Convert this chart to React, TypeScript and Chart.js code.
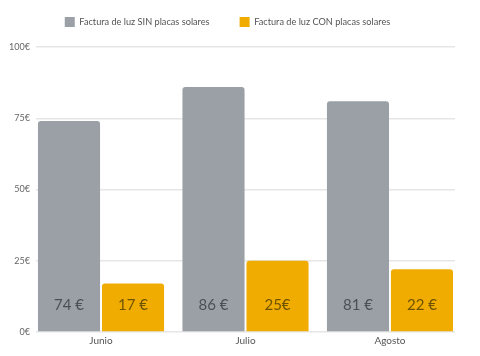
import React, { useEffect, useRef } from "react";
import { Chart, registerables } from "chart.js";

Chart.register(...registerables);

const months = ["Junio", "Julio", "Agosto"];
const sinValues = [74, 86, 81];
const conValues = [17, 25, 22];
const sinLabels = ["74 €", "86 €", "81 €"];
const conLabels = ["17 €", "25€", "22 €"];
const seriesNames = ["Factura de luz SIN placas solares", "Factura de luz CON placas solares"];
const yTicks = [0, 25, 50, 75, 100];

const FONT = "Lato, 'Open Sans', sans-serif";

const barLabelPlugin = {
  id: "barLabels",
  afterDatasetsDraw(chart: any) {
    const ctx = chart.ctx;
    const base = chart.scales.y.getPixelForValue(0);
    const sets = [
      { labels: sinLabels, color: "#4b5057" },
      { labels: conLabels, color: "#6e5300" },
    ];
    ctx.save();
    ctx.font = `15px ${FONT}`;
    ctx.textAlign = "center";
    ctx.textBaseline = "middle";
    sets.forEach((s, di) => {
      const meta = chart.getDatasetMeta(di);
      meta.data.forEach((el: any, i: number) => {
        ctx.fillStyle = s.color;
        ctx.fillText(s.labels[i], el.x, base - 27);
      });
    });
    ctx.restore();
  },
};

const legendMargin = {
  id: "legendMargin",
  beforeInit(chart: any) {
    const legend = chart.legend;
    const fit = legend.fit;
    legend.fit = function () {
      fit.bind(legend)();
      this.height += 10;
    };
  },
};

export default function App() {
  const ref = useRef<HTMLCanvasElement>(null);
  useEffect(() => {
    document.body.style.margin = "0";
    const chart = new Chart(ref.current!, {
      type: "bar",
      data: {
        datasets: [
          {
            label: seriesNames[0],
            data: sinValues.map((v, i) => ({ x: i, y: v })),
            backgroundColor: "#9aa0a6",
            borderRadius: 3,
            categoryPercentage: 0.886,
            barPercentage: 0.97,
          },
          {
            label: seriesNames[1],
            data: conValues.map((v, i) => ({ x: i, y: v })),
            backgroundColor: "#f0ac00",
            borderRadius: 3,
            categoryPercentage: 0.886,
            barPercentage: 0.97,
          },
        ],
      },
      options: {
        animation: false,
        responsive: false,
        layout: { padding: { left: 0, right: 25, top: -13, bottom: 6 } },
        plugins: {
          tooltip: { enabled: false },
          legend: {
            position: "top",
            labels: {
              boxWidth: 10,
              boxHeight: 10,
              padding: 30,
              color: "#555",
              font: { family: FONT, size: 9.2 },
            },
          },
        },
        scales: {
          x: {
            type: "linear",
            offset: false,
            bounds: "data",
            min: -0.45,
            max: 2.45,
            afterDataLimits: (s: any) => {
              s.min = -0.45;
              s.max = 2.45;
            },
            grid: { display: false, drawTicks: false, offset: false },
            border: { display: false },
            afterBuildTicks: (s: any) => {
              s.ticks = months.map((_, i) => ({ value: i }));
            },
            ticks: {
              color: "#555",
              font: { family: FONT, size: 10 },
              padding: 3,
              maxRotation: 0,
              callback: (v: any) => months[Math.round(v)],
            },
          },
          y: {
            min: 0,
            max: 100,
            afterBuildTicks: (s: any) => {
              s.ticks = yTicks.map((v) => ({ value: v }));
            },
            afterFit: (s: any) => {
              s.width = 36;
            },
            grid: { color: "#e6e6e6", lineWidth: 1.5, drawTicks: false },
            border: { display: false },
            ticks: {
              color: "#666",
              padding: 6,
              font: { family: FONT, size: 9 },
              callback: (v: any) => `${v}€`,
            },
          },
        },
      },
      plugins: [barLabelPlugin, legendMargin],
    } as any);
    return () => chart.destroy();
  }, []);
  return (
    <div style={{ width: 480, height: 356 }}>
      <canvas ref={ref} width={480} height={356} style={{ display: "block" }} />
    </div>
  );
}
